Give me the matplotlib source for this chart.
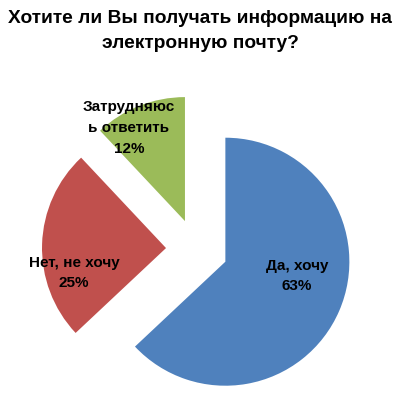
import matplotlib.pyplot as plt

# data
labels = ["Да, хочу", "Нет, не хочу", "Затрудняюс\nь ответить"]
shares = [63, 25, 12]
colors = ["#4F81BD", "#C0504D", "#9BBB59"]

title = "Хотите ли Вы получать информацию на\nэлектронную почту?"

W, H = 400, 394
fig = plt.figure(figsize=(W / 100, H / 100), dpi=100)
ax = fig.add_axes([0, 0, 1, 1])

# pixel-like coordinates, y up
cx, cy = 196, H - 249
radius = 124
wedges, _ = ax.pie(shares, colors=colors, startangle=90, counterclock=False,
                   explode=[32, 30, 30], radius=radius, center=(cx, cy),
                   wedgeprops=dict(linewidth=0))

ax.set_xlim(0, W)
ax.set_ylim(0, H)
ax.set_aspect("auto")
ax.axis("off")

# labels inside the slices
label_pos = [(297, 276), (74, 273), (129, 128)]
for lab, val, (x, y) in zip(labels, shares, label_pos):
    ax.text(x, H - y, f"{lab}\n{val}%", ha="center", va="center",
            fontsize=11, fontweight="bold", family="Liberation Sans",
            linespacing=1.6, color="black")

fig.text(0.5, 1 - 31 / H, title, ha="center", va="center", fontsize=13.8,
         fontweight="bold", family="Liberation Sans", linespacing=1.55)

fig.savefig("out.png", dpi=100)
